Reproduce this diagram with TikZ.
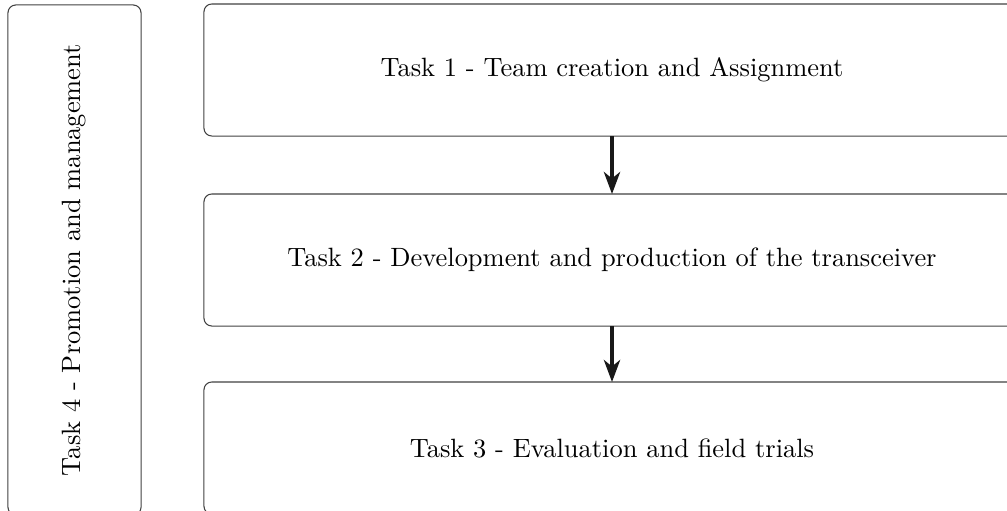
\documentclass[tikz,border=0pt]{standalone}
\usetikzlibrary{arrows.meta}
\begin{document}
\begin{tikzpicture}[x=0.3817pt,y=-0.3817pt,
  taskbox/.style={draw=black!75, rounded corners=3pt, outer sep=0pt, inner sep=0pt, align=center, font=\fontsize{10.1}{12}\selectfont},
  wide/.style={taskbox, minimum width=311.5pt, minimum height=50.4pt},
  flowarrow/.style={line width=1.5pt, black!90, -{Stealth[length=8.4pt,width=6.2pt,inset=2.5pt]}}]
\path[use as bounding box] (0,0) rectangle (1007,510);
\clip (0,0) rectangle (1007,510);
\node[wide] (t1) at (612,70) {Task 1 - Team creation and Assignment};
\node[wide] (t2) at (612,260) {Task 2 - Development and production of the transceiver};
\node[wide] (t3) at (612,448) {Task 3 - Evaluation and field trials};
\node[taskbox, minimum width=50.8pt, minimum height=194.7pt] (t4) at (74.5,260) {\rotatebox{90}{Task 4 - Promotion and management}};
\draw[flowarrow] (t1.south) -- (t2.north);
\draw[flowarrow] (t2.south) -- (t3.north);
\end{tikzpicture}
\end{document}
